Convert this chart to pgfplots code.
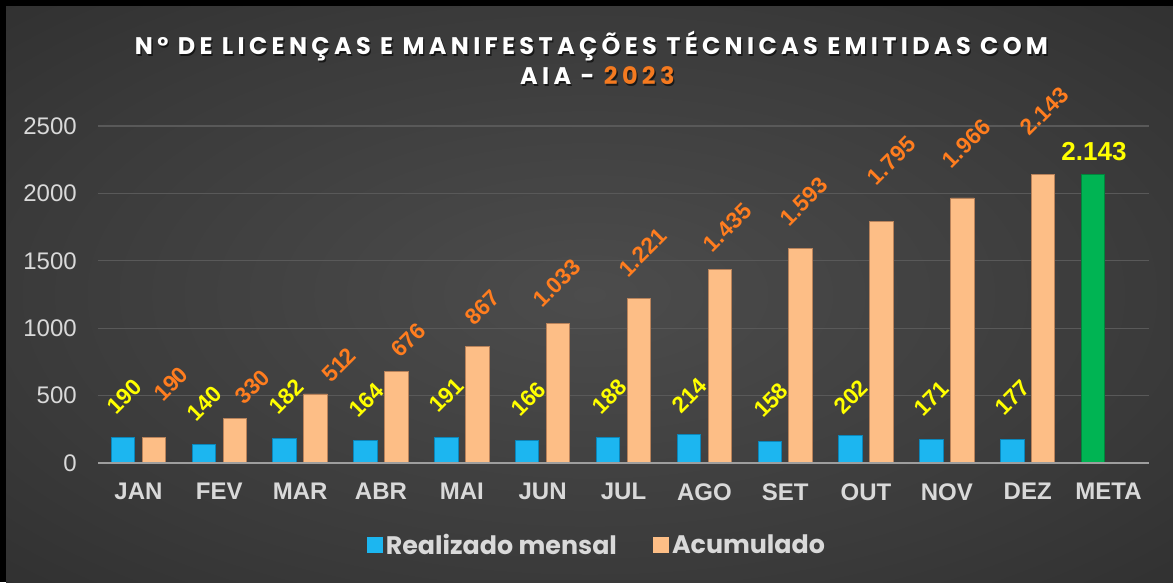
\documentclass[border=0pt]{standalone}
\usepackage{pgfplots}
\pgfplotsset{compat=1.18}
\usepackage{fontspec}
\setmainfont{Liberation Sans}
\newfontfamily\titlefont[LetterSpace=18]{Poppins}
\newfontfamily\legfont{Poppins}
\definecolor{bgin}{HTML}{4C4C4C}
\definecolor{bgmid}{HTML}{3A3A3A}
\definecolor{bgout}{HTML}{252525}
\definecolor{gridc}{HTML}{595959}
\definecolor{tickc}{HTML}{D9D9D9}
\definecolor{blueM}{HTML}{1CB6F0}
\definecolor{blueB}{HTML}{0A86BA}
\definecolor{orM}{HTML}{FDBE86}
\definecolor{orB}{HTML}{B8825A}
\definecolor{grM}{HTML}{00B453}
\definecolor{grB}{HTML}{00853C}
\definecolor{labY}{HTML}{FFFF00}
\definecolor{labO}{HTML}{FF7D1F}
\definecolor{yr}{HTML}{F47A20}
\pgfdeclareradialshading{bgshade}{\pgfpoint{0bp}{0bp}}{color(0bp)=(bgin); color(25bp)=(bgmid); color(50bp)=(bgout)}
\newcommand\labfont{\fontsize{17}{20}\selectfont\bfseries}
\newcommand\ttlfont{\titlefont\fontsize{18}{21}\selectfont\bfseries}
\begin{document}
\begin{tikzpicture}
\useasboundingbox (0,0) rectangle (879.75pt,436.5pt);
\fill[black] (0,0) rectangle (879.75pt,436.5pt);
\shade[shading=bgshade] (4.5pt,0) rectangle (879.75pt,431.25pt);
% title
\node[anchor=base, text=black, opacity=0.6, font=\ttlfont] at (444.6pt,394.25pt) {N° DE LICENÇAS E MANIFESTAÇÕES TÉCNICAS EMITIDAS COM};
\node[anchor=base, text=white, font=\ttlfont] at (443.6pt,395.25pt) {N° DE LICENÇAS E MANIFESTAÇÕES TÉCNICAS EMITIDAS COM};
\node[anchor=base, text=black, opacity=0.6, font=\ttlfont] at (449pt,371.75pt) {AIA - 2023};
\node[anchor=base, text=white, font=\ttlfont] at (448pt,372.75pt) {AIA - \textcolor{yr}{2023}};
\begin{axis}[
  at={(73.5pt,89.25pt)}, anchor=south west,
  scale only axis, width=788.25pt, height=252.75pt,
  xmin=-0.5, xmax=12.5, ymin=0, ymax=2500,
  clip=false,
  axis line style={draw=none},
  tick style={draw=none},
  xtick={0,...,12},
  xticklabels={JAN,FEV,MAR,ABR,MAI,JUN,JUL,AGO,SET,OUT,NOV,DEZ,META},
  ytick={0,500,1000,1500,2000,2500},
  ymajorgrids,
  major grid style={draw=gridc, line width=0.9pt},
  xticklabel style={font=\fontsize{18}{20}\selectfont\bfseries, text=tickc, anchor=north, inner sep=0pt, yshift=-15pt},
  yticklabel style={font=\fontsize{18}{20}\selectfont, text=tickc, anchor=east, inner sep=0pt, xshift=-15.75pt,
     /pgf/number format/assume math mode=true, /pgf/number format/1000 sep={}},
  legend columns=2,
  legend style={at={(0.475,-0.243)}, anchor=center, draw=none, fill=none,
     font=\legfont\fontsize{19}{23}\selectfont\bfseries, text=tickc,
     /tikz/every even column/.append style={column sep=25pt}},
]
\addplot[ybar, bar width=17.6pt, bar shift=-11.6pt, draw=blueB, line width=0.7pt, fill=blueM,
   legend image code/.code={\fill[blueM] (0pt,-5.8pt) rectangle (11.6pt,5.8pt);}]
   coordinates {(0,190) (1,140) (2,182) (3,164) (4,191) (5,166) (6,188) (7,214) (8,158) (9,202) (10,171) (11,177)};
\addlegendentry{Realizado mensal}
\addplot[ybar, bar width=17.6pt, bar shift=11.6pt, draw=orB, line width=0.7pt, fill=orM,
   legend image code/.code={\fill[orM] (0pt,-5.8pt) rectangle (11.6pt,5.8pt);}]
   coordinates {(0,190) (1,330) (2,512) (3,676) (4,867) (5,1033) (6,1221) (7,1435) (8,1593) (9,1795) (10,1966) (11,2143)};
\addlegendentry{Acumulado}
\addplot[ybar, bar width=17.6pt, bar shift=-11.6pt, draw=grB, line width=0.7pt, fill=grM, forget plot]
   coordinates {(12,2143)};
% baseline
\draw[draw=white!62!black, line width=1.9pt] (axis cs:-0.5,0) -- (axis cs:12.5,0);
% yellow labels (Realizado mensal)
\addplot[draw=none, mark=none, forget plot, point meta=explicit symbolic,
   nodes near coords={\pgfplotspointmeta},
   every node near coord/.append style={rotate=45, anchor=center, inner sep=0pt, text=labY, font=\labfont}]
   coordinates {(-0.178,493) [190] (0.817,441) [140] (1.831,493) [182] (2.821,467) [164]
                (3.810,504) [191] (4.825,475) [166] (5.827,493) [188] (6.810,504) [214]
                (7.824,467) [158] (8.814,490) [202] (9.809,478) [171] (10.811,486) [177]};
% orange labels (Acumulado)
\addplot[draw=none, mark=none, forget plot, point meta=explicit symbolic,
   nodes near coords={\pgfplotspointmeta},
   every node near coord/.append style={rotate=45, anchor=center, inner sep=0pt, text=labO, font=\labfont}]
   coordinates {(0.403,586) [190] (1.411,564) [330] (2.481,727) [512] (3.340,912) [676]
                (4.256,1154) [867] (5.177,1335) [1.033] (6.235,1562) [1.221] (7.286,1747) [1.435]
                (8.232,1940) [1.593] (9.314,2244) [1.795] (10.242,2370) [1.966] (11.207,2611) [2.143]};
% META label
\addplot[draw=none, mark=none, forget plot, point meta=explicit symbolic,
   nodes near coords={\pgfplotspointmeta},
   every node near coord/.append style={anchor=center, inner sep=0pt, text=labY, font=\fontsize{19.5}{22}\selectfont\bfseries}]
   coordinates {(11.819,2307) [2.143]};
\end{axis}
\end{tikzpicture}
\end{document}
